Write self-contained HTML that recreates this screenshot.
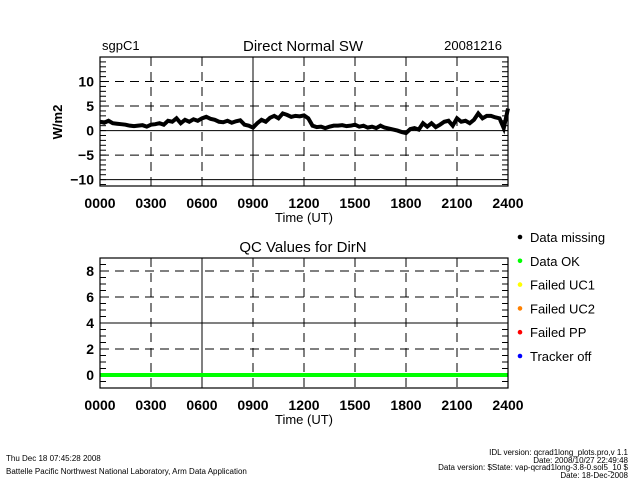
<!DOCTYPE html>
<html><head><meta charset="utf-8"><style>
body{margin:0;background:#fff}
svg{display:block;font-family:"Liberation Sans",sans-serif}
</style></head><body>
<svg id="c" width="640" height="480" viewBox="0 0 640 480">
<g id="g"></g>
</svg>
<script>
const hoursLabels=["0000","0300","0600","0900","1200","1500","1800","2100","2400"];
const topYTicks=[10,5,0,-5,-10];
const botYTicks=[8,6,4,2,0];
const dirnValues=[1.8,1.6,2.0,1.5,1.4,1.3,1.2,1.0,0.9,1.0,1.1,0.8,1.2,1.3,1.5,1.2,2.0,1.8,2.5,1.5,2.2,1.8,2.3,2.0,2.5,2.8,2.4,2.2,1.8,1.7,2.0,1.6,1.9,2.1,1.2,1.0,0.6,1.5,2.2,1.8,2.6,3.0,2.5,3.5,3.2,2.8,3.0,2.9,3.1,2.5,1.0,0.7,0.8,0.5,0.8,1.0,1.0,1.1,0.9,1.0,1.2,0.8,1.0,0.6,0.8,0.5,1.0,0.6,0.4,0.2,0.0,-0.3,-0.5,0.3,0.5,0.2,1.5,0.8,1.5,0.7,1.2,1.8,2.0,1.0,2.5,1.8,2.0,1.5,2.2,3.5,2.5,3.0,3.0,2.7,2.5,0.5,4.5];
const qcValues=new Array(97).fill(0);
const legendLabels=["Data missing","Data OK","Failed UC1","Failed UC2","Failed PP","Tracker off"];
const legendColors=["#000","#00ff00","#ffff00","#ff8000","#ff0000","#0000ff"];

const NS="http://www.w3.org/2000/svg";
const g=document.getElementById('g');
function el(t,a,txt){const e=document.createElementNS(NS,t);for(const k in a)e.setAttribute(k,a[k]);if(txt!==undefined)e.textContent=txt;g.appendChild(e);return e;}
const L=100,R=508;
const xs=h=>L+(R-L)*h/24;
function panel(top,bot,ymin,ymax,yticks,solidY,solidX,minor,name){
  const ys=v=>bot-(bot-top)*(v-ymin)/(ymax-ymin);
  yticks.forEach(v=>{
    const ln=el('line',{x1:L,x2:R,y1:ys(v),y2:ys(v),stroke:'#000','stroke-width':1,'stroke-dasharray':solidY.includes(v)?'':'9,6'});
    
    
    const t=el('text',{x:L-6,y:ys(v)+5,'text-anchor':'end','font-size':14,'font-weight':'bold'},String(v).replace('-','\u2212'));
    
    
  });
  for(let v=Math.ceil(ymin/minor)*minor;v<=ymax;v+=minor){
    el('line',{x1:L,x2:L+6,y1:ys(v),y2:ys(v),stroke:'#000'});
    el('line',{x1:R-6,x2:R,y1:ys(v),y2:ys(v),stroke:'#000'});
  }
  hoursLabels.forEach((lab,i)=>{
    const h=i*3,x=xs(h);
    if(i>0&&i<8){
      const ln=el('line',{x1:x,x2:x,y1:top,y2:bot,stroke:'#000','stroke-dasharray':h===solidX?'':'9,6'});
      
      
    }
    const t=el('text',{x:x,y:bot+22,'text-anchor':'middle','font-size':14,'font-weight':'bold'},lab);
    
    
  });
  const t=el('text',{x:(L+R)/2,y:bot+36,'text-anchor':'middle','font-size':13},'Time (UT)');
  
  
  return ys;
}
// top panel
const ysT=panel(57,186,-11.3,15,topYTicks,[0,-10],9,1,'top');
let pts=dirnValues.map((v,i)=>xs(i*0.25)+','+ysT(v)).join(' ');
const pl=el('polyline',{points:pts,fill:'none',stroke:'#000','stroke-width':4});


const fr1=el('rect',{x:L,y:57,width:R-L,height:129,fill:'none',stroke:'#000','stroke-width':1.2});


// bottom panel
const ysB=panel(258,388,-1,9,botYTicks,[4],6,0.5,'bottom');
pts=qcValues.map((v,i)=>xs(i*0.25)+','+ysB(v)).join(' ');
const ql=el('polyline',{points:pts,fill:'none',stroke:'#00ff00','stroke-width':4});


const fr2=el('rect',{x:L,y:258,width:R-L,height:130,fill:'none',stroke:'#000','stroke-width':1.2});


// titles
function txt(x,y,s,size,anchor,name,weight){const t=el('text',{x:x,y:y,'font-size':size,'text-anchor':anchor||'start','font-weight':weight||'normal'},s);return t;}
txt(102,50,'sgpC1',13,'start','site-label');
txt(303,51,'Direct Normal SW',15,'middle','top-title');
txt(502,50,'20081216',13,'end','date-label');
txt(303,252,'QC Values for DirN',15,'middle','bottom-title');
const yl=txt(62,122,'W/m2',13,'middle','y-axis-title','bold');
yl.setAttribute('transform','rotate(-90 62 122)');
legendLabels.forEach((s,i)=>{
  const y=237+i*23.8;
  const d=el('circle',{cx:520,cy:y,r:2.3,fill:legendColors[i]});
  
  
  txt(530,y+5,s,13,'start','legend-entry');
});
txt(6,461,'Thu Dec 18 07:45:28 2008',8,'start','timestamp');
txt(6,474,'Battelle Pacific Northwest National Laboratory, Arm Data Application',8,'start','credit');
txt(628,455,'IDL version: qcrad1long_plots.pro,v 1.1',8,'end','idl-version');
txt(628,463,'Date: 2008/10/27 22:49:48',8,'end','idl-date');
txt(628,470,'Data version: $State: vap-qcrad1long-3.8-0.sol5_10 $',8,'end','data-version');
txt(628,478,'Date: 18-Dec-2008',8,'end','data-date');
</script>
</body></html>
